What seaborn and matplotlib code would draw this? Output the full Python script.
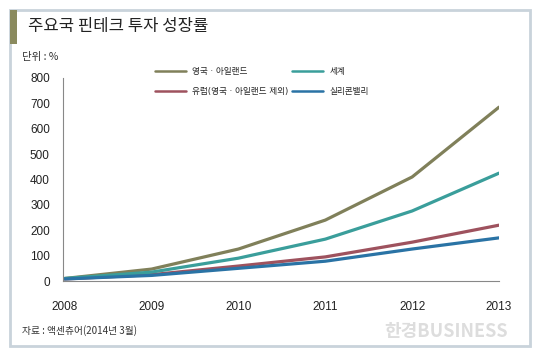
import matplotlib
matplotlib.use("Agg")
import matplotlib.pyplot as plt
import seaborn as sns
import pandas as pd
from matplotlib import font_manager
from matplotlib.patches import Rectangle
from matplotlib.lines import Line2D

years = [2008, 2009, 2010, 2011, 2012, 2013]
uk_ireland = [10, 47, 126, 240, 410, 685]
world = [10, 35, 90, 165, 276, 425]
europe_ex = [8, 25, 59, 95, 153, 220]
silicon_valley = [8, 22, 50, 78, 126, 170]

series_names = ["영국 · 아일랜드", "유럽(영국 · 아일랜드 제외)", "세계", "실리콘밸리"]
series_values = [uk_ireland, europe_ex, world, silicon_valley]
y_ticks = list(range(0, 801, 100))
colors = ["#80805a", "#9e525e", "#3a9e9b", "#2a73a5"]

df = pd.DataFrame(
    [(y, name, v) for name, vals in zip(series_names, series_values) for y, v in zip(years, vals)],
    columns=["year", "series", "value"],
)

sns.set_theme(style="white")
plt.rcParams['font.family'] = ['Noto Sans CJK KR', 'DejaVu Sans']

# narrow font for the numbers if it is there
installed = {f.name for f in font_manager.fontManager.ttflist}
if "Liberation Sans Narrow" in installed:
    num_font = {"family": ["Liberation Sans Narrow", "DejaVu Sans"], "size": 10}
else:
    num_font = {"family": ["Liberation Sans", "DejaVu Sans"], "size": 8.5}

W, H = 540, 358
fig = plt.figure(figsize=(W / 100, H / 100), dpi=100)
fig.patch.set_facecolor("white")

def px(x, y):
    return x / W, 1 - y / H

# outer frame and title accent
fig.patches.append(Rectangle(px(10, 346), 520 / W, 336 / H, transform=fig.transFigure,
                             facecolor="none", edgecolor="#c9d3db", lw=2))
fig.patches.append(Rectangle(px(10, 44), 7 / W, 34 / H, transform=fig.transFigure,
                             facecolor="#8a8a5e", edgecolor="none"))

fig.text(*px(28, 27), "주요국 핀테크 투자 성장률", fontsize=12, color="#222222", va="center")
fig.text(*px(22, 57), "단위 : %", fontsize=7.5, color="#333333", va="center")
fig.text(*px(22, 331), "자료 : 액센츄어(2014년 3월)", fontsize=7, color="#333333", va="center")
fig.text(*px(508, 331), "한경BUSINESS", fontsize=13, color="#dddddd", va="center", ha="right",
         fontweight="bold")

ax = fig.add_axes([63 / W, (H - 281) / H, (499 - 63) / W, (281 - 78) / H])
sns.lineplot(data=df, x="year", y="value", hue="series", hue_order=series_names,
             palette=colors, linewidth=2.3, ax=ax, legend=False)

ax.set_xlim(2007.98, 2013)
ax.set_ylim(0, 800)
ax.set_xticks(years)
ax.set_xticklabels([str(y) for y in years], fontdict=num_font, color="#222222")
ax.set_yticks(y_ticks)
ax.set_yticklabels([str(v) for v in y_ticks], fontdict=num_font, color="#222222")
ax.set_xlabel("")
ax.set_ylabel("")
for s in ["top", "right"]:
    ax.spines[s].set_visible(False)
for s in ["left", "bottom"]:
    ax.spines[s].set_color("#888888")
    ax.spines[s].set_linewidth(0.8)
ax.tick_params(axis="both", direction="out", length=4.5, width=0.8, color="#888888")
ax.tick_params(axis="x", pad=10)
ax.tick_params(axis="y", pad=5)

# two legend columns placed separately
handles = [Line2D([0], [0], color=c, lw=1.8) for c in colors]
leg_kw = dict(loc="upper left", frameon=False, handlelength=3.6,
              prop={"family": ["DejaVu Sans", "Noto Sans CJK KR"], "size": 6.2},
              labelspacing=1.25, handletextpad=0.75, borderpad=0, borderaxespad=0,
              bbox_transform=fig.transFigure)
leg1 = ax.legend(handles[:2], series_names[:2], bbox_to_anchor=px(155, 67), **leg_kw)
ax.add_artist(leg1)
ax.legend(handles[2:], series_names[2:], bbox_to_anchor=px(292, 67), **leg_kw)

fig.savefig("out.png", dpi=100)
